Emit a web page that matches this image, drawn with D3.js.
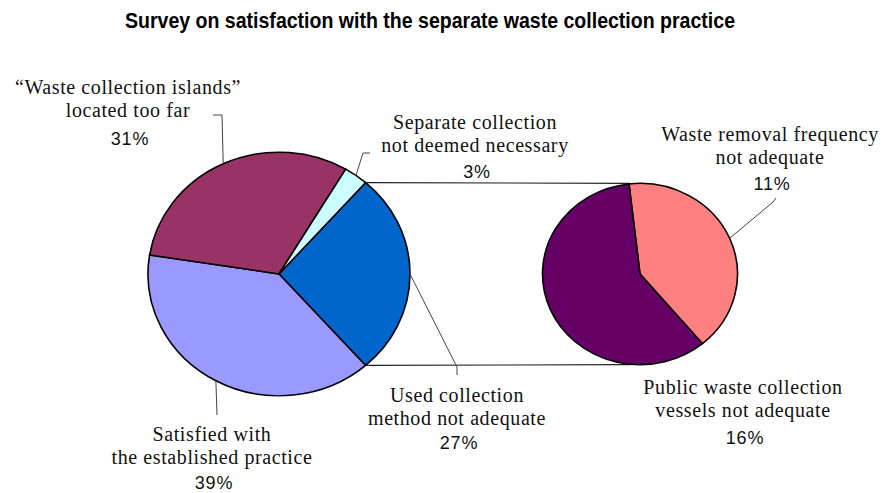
<!DOCTYPE html>
<html>
<head>
<meta charset="utf-8">
<script src="https://cdn.jsdelivr.net/npm/d3@7/dist/d3.min.js"></script>
<style>
  html, body { margin: 0; padding: 0; background: #fff; }
  svg { display: block; }
</style>
</head>
<body>
<svg id="chart" width="886" height="493"></svg>
<script>
// Main pie: the first entry is the combined slice broken out in the secondary pie
const mainCategories = [
  ["Used collection", "method not adequate"],
  ["Satisfied with", "the established practice"],
  ["“Waste collection islands”", "located too far"],
  ["Separate collection", "not deemed necessary"]
];
const mainValues = [27, 39, 31, 3];
const mainColors = ["#0066CC", "#9999FF", "#993366", "#CCFFFF"];

// Secondary pie: breakdown of the combined slice
const detailCategories = [
  ["Waste removal frequency", "not adequate"],
  ["Public waste collection", "vessels not adequate"]
];
const detailValues = [11, 16];
const detailColors = ["#FF8080", "#660066"];

const title = "Survey on satisfaction with the separate waste collection practice";

const svg = d3.select("#chart");

// geometry of the two (slightly flattened) pies
const main = { cx: 279, cy: 274, r: 131, sy: 0.93 };
const detail = { cx: 640, cy: 274, r: 97.5, sy: 0.93 };

const rad = Math.PI / 180;
const total = d3.sum(mainValues);
// the combined slice is centred on the right-hand side, facing the secondary pie
const mainStart = Math.PI / 2 - (mainValues[0] / total) * Math.PI;
const mainPie = d3.pie().sort(null).value(d => d)
  .startAngle(mainStart).endAngle(mainStart + 2 * Math.PI);
const detailStart = -6.5 * rad;
const detailPie = d3.pie().sort(null).value(d => d)
  .startAngle(detailStart).endAngle(detailStart + 2 * Math.PI);

const mainArcs = mainPie(mainValues);
const detailArcs = detailPie(detailValues);

// point on a pie rim for a d3 angle (0 = top, clockwise)
function rim(p, a, k = 1) {
  return [p.cx + Math.sin(a) * p.r * k, p.cy - Math.cos(a) * p.r * p.sy * k];
}

// title
svg.append("text")
  .attr("x", 430).attr("y", 28)
  .attr("text-anchor", "middle")
  .attr("textLength", 610).attr("lengthAdjust", "spacingAndGlyphs")
  .style("font-family", "'Liberation Sans', Arial, sans-serif")
  .style("font-weight", "bold").style("font-size", "22px")
  .attr("fill", "#000")
  .text(title);

// connector lines between the combined slice and the secondary pie
const other = mainArcs[0];
const connectors = [
  [rim(main, other.startAngle), [detail.cx - 10, rim(detail, 0)[1]]],
  [rim(main, other.endAngle), [detail.cx - 10, rim(detail, Math.PI)[1]]]
];
svg.append("g").selectAll("line").data(connectors).join("line")
  .attr("x1", d => d[0][0]).attr("y1", d => d[0][1])
  .attr("x2", d => d[1][0]).attr("y2", d => d[1][1])
  .attr("stroke", "#222").attr("stroke-width", 1.2);

function drawPie(p, arcs, colors) {
  const g = svg.append("g")
    .attr("transform", `translate(${p.cx},${p.cy}) scale(1,${p.sy})`);
  const arc = d3.arc().innerRadius(0).outerRadius(p.r);
  g.selectAll("path").data(arcs).join("path")
    .attr("d", arc)
    .attr("fill", (d, i) => colors[i])
    .attr("stroke", "#000")
    .attr("stroke-width", 1.6)
    .attr("stroke-linejoin", "round");
}
drawPie(main, mainArcs, mainColors);
drawPie(detail, detailArcs, detailColors);

// label placement: text centre x, first baseline y, and leader bends
const mainLayout = [
  { x: 457, y: 402, pctY: 449, leader: [[457, 367], [457, 375]] },
  { x: 212, y: 441, pctY: 489, leader: [[217, 415]] },
  { x: 128, y: 94, pctY: 145, leader: [[222, 115], [213, 115]] },
  { x: 475, y: 129, pctY: 178, leader: [[363, 153], [370, 153]] }
];
const detailLayout = [
  { x: 770, y: 141, pctY: 190, leader: [[773, 202], [776, 198]] },
  { x: 743, y: 394, pctY: 444, leader: null }
];

function drawLabels(p, arcs, cats, vals, layout) {
  const g = svg.append("g");
  arcs.forEach((a, i) => {
    const L = layout[i];
    if (L.leader) {
      const mid = (a.startAngle + a.endAngle) / 2;
      const pts = [rim(p, mid)].concat(L.leader);
      g.append("path")
        .attr("d", d3.line()(pts))
        .attr("fill", "none")
        .attr("stroke", "#444")
        .attr("stroke-width", 1);
    }
    const t = g.append("text")
      .attr("text-anchor", "middle")
      .style("font-family", "'Liberation Serif', 'Times New Roman', serif")
      .style("font-size", "20px")
      .style("letter-spacing", "0.6px")
      .attr("fill", "#111");
    cats[i].forEach((line, j) => {
      t.append("tspan").attr("x", L.x).attr("y", L.y + j * 23).text(line);
    });
    g.append("text")
      .attr("x", L.x + 2).attr("y", L.pctY)
      .attr("text-anchor", "middle")
      .style("font-family", "'Liberation Sans', Arial, sans-serif")
      .style("font-size", "18px")
      .style("letter-spacing", "0.8px")
      .attr("fill", "#111")
      .text(vals[i] + "%");
  });
}
drawLabels(main, mainArcs, mainCategories, mainValues, mainLayout);
drawLabels(detail, detailArcs, detailCategories, detailValues, detailLayout);
</script>
</body>
</html>
